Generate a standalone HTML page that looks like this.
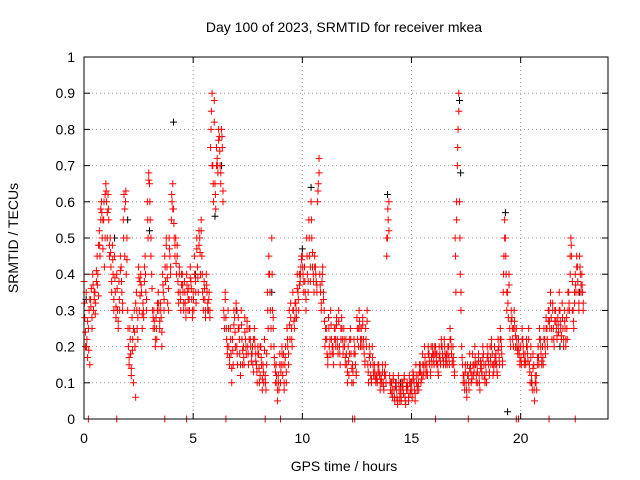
<!DOCTYPE html>
<html><head><meta charset="utf-8"><style>
body{margin:0;background:#fff}
svg{display:block}
text{font-family:"Liberation Sans",sans-serif;font-size:14px;fill:#000}
</style></head><body>
<svg id="chart" width="640" height="480" xmlns="http://www.w3.org/2000/svg">
<rect width="640" height="480" fill="#fff"/>
<text x="344" y="32" text-anchor="middle">Day 100 of 2023, SRMTID for receiver mkea</text>
<text transform="translate(18,238) rotate(-90)" text-anchor="middle">SRMTID / TECUs</text>
<text x="344" y="471" text-anchor="middle">GPS time / hours</text>
<g id="grid"></g>
<g id="axes"></g>
<g id="marks"></g>
<rect x="84" y="57" width="524" height="362" fill="none" stroke="#000" stroke-width="1"/>
</svg>
<script>
const xTicks=[0,5,10,15,20];
const yTicks=[0,0.1,0.2,0.3,0.4,0.5,0.6,0.7,0.8,0.9,1];
const yTickLabels=["0","0.1","0.2","0.3","0.4","0.5","0.6","0.7","0.8","0.9","1"];
const stepHours=0.1;
const redVals=[
[.38,.28,.2],[.35,.22,.17],[.25,.3,.15],[.33,.36,.28],[.4,.3,.35],[.35,.32,.38],[.45,.4,.34],[.52,.45,.58],[.6,.5,.55],[.55,.42,.62],
[.65,.6,.5],[.62,.55,.45],[.5,.42,.35],[.48,.4,.3],[.45,.35,.28],[.4,.3,.25],[.38,.3,.45],[.42,.35,.3],[.55,.62,.45],[.6,.4,.5],
[.3,.2,.15],[.25,.18,.12],[.28,.22,.1],[.3,.2,.06],[.35,.25,.28],[.42,.3,.38],[.4,.35,.25],[.32,.28,.38],[.45,.35,.3],[.6,.5,.68],
[.65,.55,.45],[.4,.3,.25],[.3,.25,.2],[.28,.22,.32],[.35,.3,.25],[.32,.28,.2],[.4,.35,.3],[.45,.38,.48],[.42,.32,.36],[.5,.45,.4],
[.55,.6,.65],[.58,.5,.45],[.5,.4,.45],[.38,.32,.42],[.35,.3,.4],[.4,.35,.3],[.38,.32,.28],[.4,.35,.3],[.36,.3,.42],[.38,.33,.28],
[.35,.3,.45],[.38,.32,.5],[.42,.35,.48],[.5,.4,.55],[.45,.35,.3],[.38,.33,.28],[.4,.35,.3],[.3,.35,.28],[.75,.85,.9],[.7,.6,.88],
[.65,.58,.75],[.72,.68,.8],[.78,.7,.65],[.8,.75,.6],[.3,.25,.35],[.28,.22,.18],[.3,.2,.15],[.25,.18,.1],[.22,.15,.3],[.28,.2,.32],
[.2,.15,.28],[.25,.18,.12],[.3,.22,.15],[.2,.15,.28],[.22,.18,.25],[.2,.15,.22],[.25,.2,.18],[.18,.15,.22],[.25,.2,.18],[.15,.1,.2],
[.18,.1,.12],[.2,.15,.08],[.15,.1,.22],[.12,.08,.18],[.35,.25,.45],[.4,.3,.2],[.5,.3,.25],[.2,.15,.1],[.15,.1,.05],[.12,.08,.18],
[.1,.15,.2],[.12,.18,.08],[.15,.2,.1],[.25,.2,.15],[.3,.22,.28],[.25,.2,.35],[.3,.25,.28],[.32,.28,.4],[.35,.3,.4],[.38,.42,.45],
[.45,.4,.35],[.42,.35,.3],[.5,.4,.35],[.55,.45,.38],[.6,.5,.42],[.4,.35,.45],[.42,.38,.35],[.6,.65,.72],[.4,.35,.3],[.38,.42,.35],
[.3,.2,.25],[.25,.18,.15],[.28,.2,.22],[.3,.22,.18],[.2,.15,.25],[.25,.2,.28],[.22,.18,.3],[.2,.15,.25],[.28,.22,.18],[.25,.2,.15],
[.22,.15,.1],[.2,.12,.18],[.25,.18,.1],[.15,.1,.22],[.2,.15,.12],[.28,.22,.25],[.3,.25,.2],[.25,.2,.28],[.22,.18,.15],[.25,.2,.3],
[.15,.1,.2],[.18,.12,.1],[.2,.15,.12],[.15,.12,.1],[.12,.1,.15],[.15,.12,.08],[.12,.1,.15],[.1,.08,.13],[.15,.1,.45],[.5,.55,.6],
[.12,.08,.1],[.1,.06,.12],[.08,.05,.1],[.1,.06,.04],[.12,.08,.05],[.08,.05,.1],[.1,.07,.12],[.06,.04,.09],[.1,.08,.05],[.12,.07,.1],
[.1,.06,.13],[.12,.08,.05],[.15,.1,.08],[.12,.08,.15],[.15,.1,.12],[.18,.12,.15],[.2,.15,.12],[.15,.12,.2],[.18,.15,.12],[.2,.15,.18],
[.18,.15,.2],[.2,.16,.18],[.15,.12,.2],[.18,.15,.22],[.2,.17,.15],[.22,.18,.15],[.18,.15,.2],[.2,.15,.25],[.22,.18,.15],[.2,.15,.12],
[.5,.35,.6],[.7,.8,.9],[.6,.4,.3],[.2,.15,.1],[.12,.08,.15],[.1,.06,.15],[.12,.08,.18],[.15,.1,.12],[.18,.12,.15],[.2,.15,.1],
[.15,.1,.18],[.12,.08,.16],[.15,.12,.2],[.18,.12,.1],[.15,.1,.2],[.18,.15,.12],[.2,.15,.22],[.18,.12,.15],[.2,.15,.18],[.15,.12,.22],
[.2,.15,.25],[.22,.18,.15],[.35,.45,.55],[.5,.4,.3],[.35,.28,.4],[.25,.2,.3],[.28,.22,.25],[.3,.25,.2],[.25,.2,.18],[.22,.18,.15],
[.2,.15,.25],[.22,.18,.15],[.18,.15,.22],[.2,.16,.25],[.15,.1,.2],[.12,.08,.18],[.15,.05,.1],[.1,.08,.15],[.2,.15,.25],[.22,.18,.15],
[.2,.15,.25],[.22,.18,.28],[.25,.2,.3],[.3,.25,.35],[.28,.22,.32],[.25,.2,.3],[.3,.25,.22],[.28,.24,.35],[.3,.25,.22],[.32,.25,.2],
[.3,.25,.2],[.28,.22,.35],[.35,.3,.45],[.5,.45,.3],[.3,.25,.35],[.4,.35,.45],[.42,.35,.3],[.45,.4,.35],[.4,.35,.3]
];
const redVals2=[
[.32,.24],[.2,.27],[.19,.33],[.31,.25],[.37,.33],[.29,.41],[.37,.48],[.48,.55],[.57,.47],[.6,.5],
[.63,.57],[.58,.48],[.46,.38],[.44,.33],[.39,.31],[.36,.27],[.33,.41],[.38,.32],[.5,.58],[.63,.44],
[.25,.17],[.22,.14],[.19,.25],[.24,.32],[.3,.22],[.39,.34],[.37,.29],[.3,.42],[.4,.33],[.55,.66],
[.6,.5],[.36,.28],[.27,.22],[.25,.3],[.32,.27],[.3,.24],[.37,.33],[.42,.5],[.39,.3],[.47,.42],
[.62,.58],[.54,.48],[.43,.48],[.35,.4],[.33,.37],[.37,.32],[.35,.3],[.37,.33],[.33,.39],[.36,.3],
[.33,.4],[.35,.47],[.39,.52],[.46,.52],[.4,.33],[.36,.3],[.37,.32],[.33,.3],[.8,.7],[.65,.82],
[.62,.7],[.7,.77],[.74,.68],[.78,.63],[.28,.33],[.25,.2],[.25,.17],[.22,.14],[.19,.26],[.24,.3],
[.18,.25],[.22,.15],[.26,.19],[.17,.24],[.2,.27],[.18,.25],[.22,.16],[.2,.13],[.22,.16],[.13,.18],
[.14,.2],[.17,.11],[.13,.19],[.1,.15],[.3,.4],[.35,.25],[.4,.28],[.17,.13],[.12,.08],[.1,.15],
[.13,.18],[.15,.1],[.17,.13],[.22,.18],[.26,.32],[.22,.3],[.27,.32],[.3,.36],[.33,.37],[.4,.44],
[.42,.38],[.38,.33],[.45,.38],[.5,.42],[.55,.46],[.38,.42],[.4,.37],[.63,.68],[.37,.32],[.4,.33],
[.27,.22],[.22,.17],[.25,.18],[.26,.2],[.18,.22],[.22,.26],[.2,.27],[.18,.22],[.25,.2],[.22,.17],
[.18,.13],[.16,.22],[.22,.14],[.13,.18],[.18,.13],[.25,.2],[.27,.22],[.22,.26],[.2,.16],[.22,.27],
[.13,.17],[.15,.11],[.17,.13],[.13,.11],[.11,.13],[.13,.1],[.11,.13],[.09,.12],[.12,.5],[.58,.52],
[.1,.07],[.08,.11],[.06,.09],[.08,.05],[.1,.06],[.07,.09],[.08,.11],[.05,.08],[.09,.06],[.1,.08],
[.08,.11],[.1,.07],[.12,.09],[.1,.13],[.13,.11],[.15,.13],[.17,.13],[.13,.18],[.16,.13],[.17,.2],
[.16,.18],[.18,.15],[.13,.17],[.16,.2],[.18,.16],[.2,.17],[.16,.18],[.17,.22],[.2,.16],[.17,.13],
[.45,.55],[.75,.85],[.5,.35],[.17,.12],[.1,.13],[.08,.12],[.1,.14],[.13,.11],[.15,.13],[.17,.12],
[.13,.16],[.1,.14],[.13,.17],[.15,.11],[.13,.17],[.16,.13],[.17,.2],[.15,.13],[.17,.16],[.13,.19],
[.17,.22],[.2,.16],[.4,.5],[.45,.35],[.32,.37],[.22,.27],[.25,.2],[.27,.23],[.22,.19],[.2,.16],
[.17,.22],[.2,.16],[.16,.2],[.18,.22],[.13,.17],[.1,.14],[.08,.12],[.12,.17],[.17,.22],[.2,.16],
[.17,.22],[.2,.25],[.22,.27],[.27,.32],[.25,.3],[.22,.27],[.27,.23],[.26,.3],[.27,.23],[.28,.22],
[.27,.22],[.25,.3],[.32,.4],[.48,.38],[.27,.32],[.37,.42],[.38,.32],[.42,.37],[.37,.32]
];
const zeroTimes=[0.2,1.5,3.7,4.7,6.5,8.3,9.0,12.3,12.4,16.1,17.6,19.8,19.9,21.3,22.5];
const blackTimes=[0.1,1.4,2.0,3.0,4.1,5.1,6.0,6.3,7.0,8.6,10.0,10.4,11.2,13.9,14.5,17.2,17.25,19.3,19.4,20.5,21.8,22.7];
const blackVals=[0.33,0.5,0.55,0.52,0.82,0.4,0.56,0.7,0.3,0.35,0.47,0.64,0.28,0.62,0.1,0.88,0.68,0.57,0.02,0.1,0.2,0.35];

const X0=84,X1=608,Y0=419,Y1=57,XMAX=24;
const sx=t=>X0+(X1-X0)*t/XMAX;
const sy=v=>Y0-(Y0-Y1)*v;
const NS="http://www.w3.org/2000/svg";
const grid=document.getElementById('grid'),axes=document.getElementById('axes'),marks=document.getElementById('marks');
function mk(tag,attrs,parent){const e=document.createElementNS(NS,tag);for(const k in attrs)e.setAttribute(k,attrs[k]);parent.appendChild(e);return e;}
yTicks.forEach((v,i)=>{
  const y=sy(v);
  if(i>0&&i<yTicks.length-1){const g=mk('line',{x1:X0,x2:X1,y1:y,y2:y,stroke:'#a0a0a0','stroke-dasharray':'1,3'},grid);
  
  }
  mk('line',{x1:X0,x2:X0+6,y1:y,y2:y,stroke:'#000'},axes);
  mk('line',{x1:X1,x2:X1-6,y1:y,y2:y,stroke:'#000'},axes);
  const t=mk('text',{x:X0-9,y:y+5,'text-anchor':'end'},axes);t.textContent=yTickLabels[i];
  
  
});
xTicks.forEach(v=>{
  const x=sx(v);
  if(v>0){const g=mk('line',{x1:x,x2:x,y1:Y0,y2:Y1,stroke:'#a0a0a0','stroke-dasharray':'1,3'},grid);
  
  }
  mk('line',{x1:x,x2:x,y1:Y0,y2:Y0-6,stroke:'#000'},axes);
  mk('line',{x1:x,x2:x,y1:Y1,y2:Y1+6,stroke:'#000'},axes);
  const t=mk('text',{x:x,y:Y0+24,'text-anchor':'middle'},axes);t.textContent=String(v);
  
  
});
function plus(t,v,color,name){
  const x=sx(t),y=sy(v);
  const p=mk('path',{d:`M${x-3.5},${y}h7M${x},${y-3.5}v7`,stroke:color,'stroke-width':1,fill:'none'},marks);
  
  
}
blackTimes.forEach((t,i)=>plus(t,blackVals[i],'#000000','black-point'));
redVals.forEach((vals,i)=>{vals.forEach((v,j)=>{plus(i*stepHours+j*0.033,v,'#ff0000','red-point');});});
redVals2.forEach((vals,i)=>{vals.forEach((v,j)=>{plus(i*stepHours+0.017+j*0.05,v,'#ff0000','red-point');});});
zeroTimes.forEach(t=>plus(t,0,'#ff0000','zero-point'));
</script>
</body></html>
